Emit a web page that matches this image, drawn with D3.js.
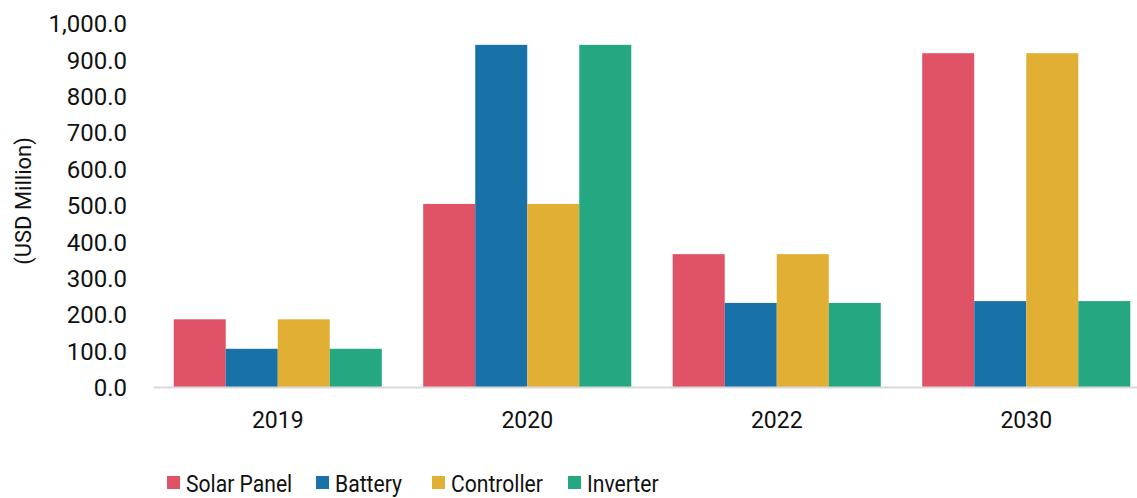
<!DOCTYPE html>
<html>
<head>
<meta charset="utf-8">
<script src="https://cdn.jsdelivr.net/npm/d3@7"></script>
<style>
  body { margin: 0; background: #fff; }
  text { font-family: Roboto, "Liberation Sans", sans-serif; fill: #111; }
</style>
</head>
<body>
<div id="chart"></div>
<script>
// data
const years = ["2019", "2020", "2022", "2030"];
const seriesNames = ["Solar Panel", "Battery", "Controller", "Inverter"];
const solarPanel = [186, 503, 365, 917];
const battery = [105, 940, 231, 236];
const controller = [186, 503, 365, 917];
const inverter = [105, 940, 231, 236];
const yTicks = [0, 100, 200, 300, 400, 500, 600, 700, 800, 900, 1000];
const colors = ["#e05366", "#1872a7", "#e1af33", "#25a882"];

const w = 1137, h = 498;
const plotLeft = 153, plotRight = 1151, plotTop = 23, plotBottom = 387;

const values = [solarPanel, battery, controller, inverter];
const rows = years.map((y, i) => ({ year: y, vals: values.map(s => s[i]) }));

const svg = d3.select("#chart").append("svg")
  .attr("width", w).attr("height", h);

const x0 = d3.scaleBand().domain(years)
  .range([plotLeft, plotRight])
  .paddingInner(0.166).paddingOuter(0.083);
const x1 = d3.scaleBand().domain(d3.range(seriesNames.length))
  .range([0, x0.bandwidth()]);
const yScale = d3.scaleLinear().domain([0, 1000]).range([plotBottom, plotTop]);

// y axis (labels only)
const yAxis = d3.axisLeft(yScale).tickValues(yTicks)
  .tickFormat(d3.format(",.1f")).tickSize(0).tickPadding(0);
const gy = svg.append("g").attr("transform", "translate(127,0)").call(yAxis);
gy.select(".domain").remove();
gy.selectAll("text").attr("font-size", 24).attr("fill", "#111")
  .attr("font-family", "Roboto, sans-serif").attr("dy", "0.36em");

svg.append("text")
  .attr("transform", "translate(31,201) rotate(-90)")
  .attr("text-anchor", "middle")
  .attr("font-size", 22)
  .text("(USD Million)");

// bars
const groups = svg.selectAll(".grp").data(rows).enter().append("g")
  .attr("transform", d => "translate(" + x0(d.year) + ",0)");
groups.selectAll("rect").data(d => d.vals).enter().append("rect")
  .attr("x", (d, i) => x1(i))
  .attr("y", d => yScale(d))
  .attr("width", x1.bandwidth())
  .attr("height", d => plotBottom - yScale(d))
  .attr("fill", (d, i) => colors[i]);

// x axis
const xAxis = d3.axisBottom(x0).tickSize(0).tickPadding(25);
const gx = svg.append("g").attr("transform", "translate(0," + plotBottom + ")").call(xAxis);
gx.select(".domain").attr("stroke", "#d9d9d9").attr("stroke-width", 2);
gx.selectAll("text").attr("font-size", 23).attr("fill", "#111")
  .attr("font-family", "Roboto, sans-serif");

// legend
const legendX = [167, 316, 432, 568];
const legend = svg.selectAll(".lg").data(seriesNames).enter().append("g")
  .attr("transform", (d, i) => "translate(" + legendX[i] + ",483)");
legend.append("rect").attr("x", 0).attr("y", -7).attr("width", 13).attr("height", 13)
  .attr("fill", (d, i) => colors[i]);
legend.append("text").attr("transform", "translate(19,0) scale(0.88,1)")
  .attr("dy", "0.36em")
  .attr("font-size", 24).text(d => d);
</script>
</body>
</html>
